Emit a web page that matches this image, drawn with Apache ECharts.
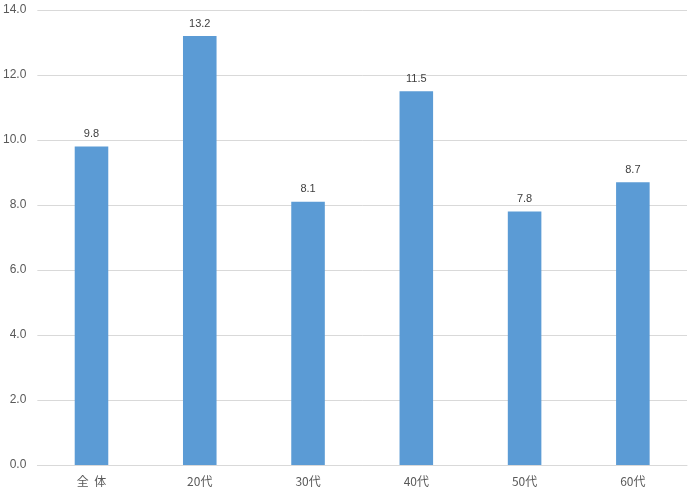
<!DOCTYPE html>
<html><head><meta charset="utf-8">
<script src="https://cdn.jsdelivr.net/npm/echarts@6/dist/echarts.min.js"></script>
<style>html,body{margin:0;padding:0;background:#fff}#c{width:693px;height:490px}</style>
</head><body><div id="c"></div>
<script>
var categories = ['全  体', '20代', '30代', '40代', '50代', '60代'];
var values = [9.8, 13.2, 8.1, 11.5, 7.8, 8.7];
var chart = echarts.init(document.getElementById('c'), null, {renderer: 'canvas'});
chart.setOption({
  animation: false,
  grid: {left: 37, right: 6, top: 10, bottom: 25, containLabel: false},
  xAxis: {
    type: 'category', data: categories,
    axisLine: {lineStyle: {color: '#d9d9d9'}},
    axisTick: {show: false},
    axisLabel: {color: '#595959', fontSize: 12, fontFamily: 'Noto Sans CJK JP', margin: 10}
  },
  yAxis: {
    type: 'value', min: 0, max: 14, interval: 2,
    axisLine: {show: false}, axisTick: {show: false},
    splitLine: {lineStyle: {color: '#d9d9d9'}},
    axisLabel: {color: '#595959', fontSize: 12, fontFamily: 'Liberation Sans', margin: 11,
      formatter: function(v){return v.toFixed(1);}}
  },
  series: [{
    type: 'bar', data: values, barWidth: '31%',
    itemStyle: {color: '#5b9bd5'},
    label: {show: true, position: 'top', distance: 7, color: '#404040', fontSize: 11,
      fontFamily: 'Liberation Sans', formatter: function(p){return p.value.toFixed(1);}}
  }]
});
</script></body></html>
